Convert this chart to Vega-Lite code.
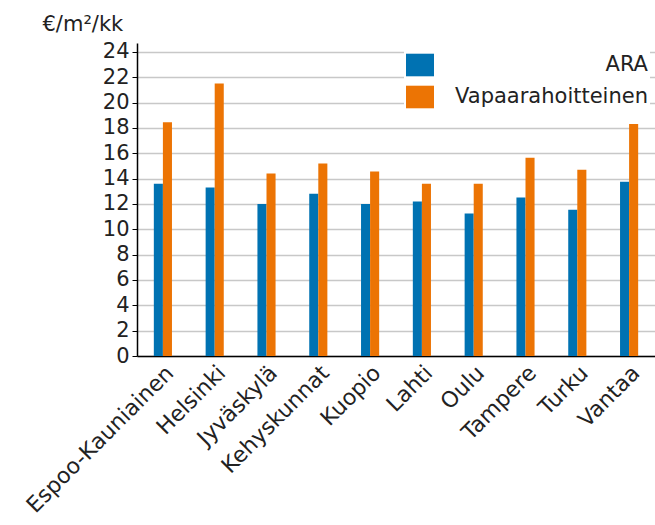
{
  "$schema": "https://vega.github.io/schema/vega-lite/v6.json",
  "autosize": {"type": "none"},
  "padding": {"left": 137, "top": 43, "right": 0, "bottom": 169},
  "width": 518,
  "height": 313,
  "config": {
    "font": "DejaVu Sans",
    "view": {"stroke": null},
    "axis": {"labelColor": "#222", "titleColor": "#222", "labelFont": "DejaVu Sans", "titleFont": "DejaVu Sans"},
    "legend": {"labelFont": "DejaVu Sans"}
  },
  "data": {
    "values": [
      {"city": "Espoo-Kauniainen", "type": "ARA", "value": 13.6},
      {"city": "Espoo-Kauniainen", "type": "Vapaarahoitteinen", "value": 18.45},
      {"city": "Helsinki", "type": "ARA", "value": 13.3},
      {"city": "Helsinki", "type": "Vapaarahoitteinen", "value": 21.5},
      {"city": "Jyväskylä", "type": "ARA", "value": 12.0},
      {"city": "Jyväskylä", "type": "Vapaarahoitteinen", "value": 14.4},
      {"city": "Kehyskunnat", "type": "ARA", "value": 12.8},
      {"city": "Kehyskunnat", "type": "Vapaarahoitteinen", "value": 15.2},
      {"city": "Kuopio", "type": "ARA", "value": 12.0},
      {"city": "Kuopio", "type": "Vapaarahoitteinen", "value": 14.55},
      {"city": "Lahti", "type": "ARA", "value": 12.2},
      {"city": "Lahti", "type": "Vapaarahoitteinen", "value": 13.6},
      {"city": "Oulu", "type": "ARA", "value": 11.25},
      {"city": "Oulu", "type": "Vapaarahoitteinen", "value": 13.6},
      {"city": "Tampere", "type": "ARA", "value": 12.5},
      {"city": "Tampere", "type": "Vapaarahoitteinen", "value": 15.65},
      {"city": "Turku", "type": "ARA", "value": 11.55},
      {"city": "Turku", "type": "Vapaarahoitteinen", "value": 14.7},
      {"city": "Vantaa", "type": "ARA", "value": 13.75},
      {"city": "Vantaa", "type": "Vapaarahoitteinen", "value": 18.3}
    ]
  },
  "mark": {"type": "bar"},
  "encoding": {
    "x": {
      "field": "city",
      "type": "nominal",
      "sort": null,
      "scale": {"paddingInner": 0.65, "paddingOuter": 0.325},
      "axis": {
        "title": null,
        "labelAngle": -45,
        "labelFontSize": 22,
        "labelLimit": 400,
        "ticks": false,
        "labelPadding": 6,
        "domainColor": "#000",
        "domainWidth": 1.5
      }
    },
    "xOffset": {"field": "type", "type": "nominal", "scale": {"paddingInner": 0, "paddingOuter": 0}},
    "y": {
      "field": "value",
      "type": "quantitative",
      "scale": {"domain": [0, 24.7], "nice": false, "zero": true},
      "axis": {
        "values": [0, 2, 4, 6, 8, 10, 12, 14, 16, 18, 20, 22, 24],
        "title": "€/m²/kk",
        "titleAngle": 0,
        "titleAlign": "left",
        "titleBaseline": "alphabetic",
        "titleX": -95,
        "titleY": -13,
        "titleFontSize": 21,
        "titleFontWeight": "normal",
        "labelFontSize": 21,
        "tickSize": 5,
        "tickColor": "#000",
        "labelPadding": 3,
        "domainColor": "#000",
        "domainWidth": 1.5,
        "gridColor": "#c8c8c8",
        "gridWidth": 1.5
      }
    },
    "color": {
      "field": "type",
      "type": "nominal",
      "scale": {"domain": ["ARA", "Vapaarahoitteinen"], "range": ["#0072b2", "#ec7404"]},
      "legend": {
        "title": null,
        "orient": "none",
        "legendX": 267,
        "legendY": 6,
        "fillColor": "white",
        "padding": 2,
        "symbolType": "M-1,-0.807H1V0.807H-1Z",
        "symbolSize": 784,
        "symbolStrokeWidth": 0,
        "labelFontSize": 21,
        "labelColor": "#222",
        "labelAlign": "right",
        "labelLimit": 400,
        "rowPadding": 6,
        "labelOffset": 214
      }
    }
  }
}
